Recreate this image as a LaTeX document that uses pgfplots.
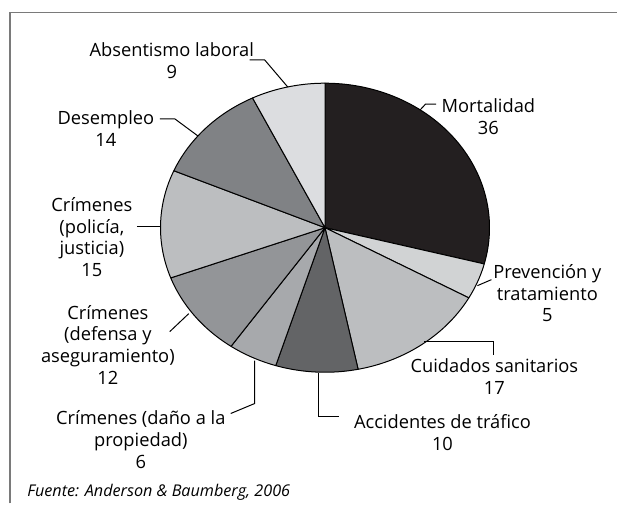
\documentclass[border=0pt]{standalone}
\usepackage{pgfplots}
\pgfplotsset{compat=1.18}
\usepackage{fontspec}
\setmainfont{Open Sans}
\definecolor{cMort}{HTML}{231F20}
\definecolor{cPrev}{HTML}{D1D3D4}
\definecolor{cCuid}{HTML}{BCBEC0}
\definecolor{cAcc}{HTML}{636466}
\definecolor{cDano}{HTML}{A7A9AC}
\definecolor{cDef}{HTML}{939598}
\definecolor{cPol}{HTML}{BCBEC0}
\definecolor{cDes}{HTML}{808285}
\definecolor{cAbs}{HTML}{DCDDE0}
\definecolor{frame}{HTML}{7A7A7A}
% slice: cumulative start, value, colour (total 124)
\newcommand{\pieslice}[3]{%
  \addplot[fill=#3, draw=black, line width=0.5pt, line join=round,
    domain=90-(#1+#2)/124*360:90-#1/124*360, samples=90]
    ({325.4+164.7*cos(x)},{228-144.7*sin(x)}) -- (axis cs:325.4,228) -- cycle;}
\begin{document}
\begin{tikzpicture}[lab/.style={align=center, inner sep=0pt, font=\fontsize{9.15}{10.85}\selectfont}]
\begin{axis}[width=309pt, height=252pt, scale only axis,
  xmin=0, xmax=618, ymin=0, ymax=504, y dir=reverse,
  hide axis, clip=false]
\path (axis cs:0,0) rectangle (axis cs:618,504);
% frame
\draw[frame, line width=0.75pt] (axis cs:10,504) -- (axis cs:10,12.3) -- (axis cs:618,12.3);
% pie slices (values: 36,5,17,10,6,12,15,14,9)
\pieslice{0}{36}{cMort}
\pieslice{36}{5}{cPrev}
\pieslice{41}{17}{cCuid}
\pieslice{58}{10}{cAcc}
\pieslice{68}{6}{cDano}
\pieslice{74}{12}{cDef}
\pieslice{86}{15}{cPol}
\pieslice{101}{14}{cDes}
\pieslice{115}{9}{cAbs}
% leader lines
\draw[black, line width=0.5pt] (axis cs:250,60) -- (axis cs:265,60) -- (axis cs:288,87);
\draw[black, line width=0.5pt] (axis cs:160,119) -- (axis cs:175,119) -- (axis cs:198,136);
\draw[black, line width=0.5pt] (axis cs:137,227) -- (axis cs:161,227);
\draw[black, line width=0.5pt] (axis cs:170,332) -- (axis cs:189,314);
\draw[black, line width=0.5pt] (axis cs:231,414) -- (axis cs:255,404) -- (axis cs:255,361);
\draw[black, line width=0.5pt] (axis cs:339,417) -- (axis cs:319,417) -- (axis cs:319,373);
\draw[black, line width=0.5pt] (axis cs:425,342) -- (axis cs:494,342) -- (axis cs:494,355);
\draw[black, line width=0.5pt] (axis cs:478,286) -- (axis cs:492,280);
\draw[black, line width=0.5pt] (axis cs:420.7,110) -- (axis cs:426,104.3) -- (axis cs:436.7,104.3);
% labels
\node[lab] at (axis cs:172,61) {Absentismo laboral\\9};
\node[lab] at (axis cs:106,129) {Desempleo\\14};
\node[lab] at (axis cs:92,237.5) {Crímenes\\(policía,\\justicia)\\15};
\node[lab] at (axis cs:108,345) {Crímenes\\(defensa y\\aseguramiento)\\12};
\node[lab] at (axis cs:141,440) {Crímenes (daño a la\\propiedad)\\6};
\node[lab] at (axis cs:443,433) {Accidentes de tráfico\\10};
\node[lab] at (axis cs:495,377) {Cuidados sanitarios\\17};
\node[lab] at (axis cs:548,293.5) {Prevención y\\tratamiento\\5};
\node[lab] at (axis cs:489,116.5) {Mortalidad\\36};
\node[anchor=west, inner sep=0pt, font=\fontsize{8.1}{10}\selectfont\itshape] at (axis cs:27,493) {Fuente: Anderson \& Baumberg, 2006};
\end{axis}
\end{tikzpicture}
\end{document}
